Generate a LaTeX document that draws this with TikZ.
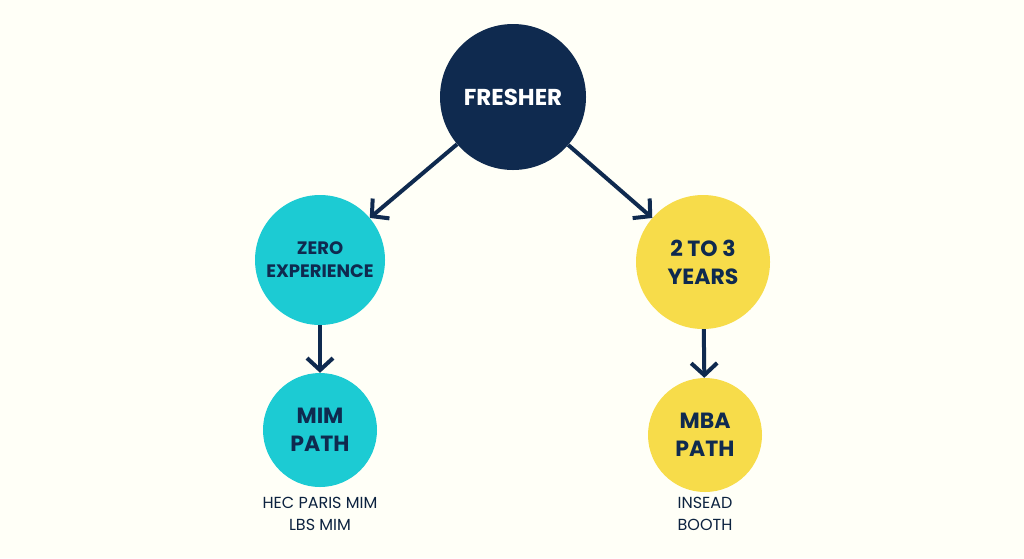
\documentclass[tikz,border=0pt]{standalone}
\usepackage{fontspec}
\setmainfont{Poppins}
\usetikzlibrary{arrows.meta}
\definecolor{navy}{HTML}{0F2A4F}
\definecolor{cyanc}{HTML}{1CCBD3}
\definecolor{yel}{HTML}{F7DC4A}
\begin{document}
\begin{tikzpicture}[x=1pt,y=-1pt,
  bub/.style={circle,inner sep=0pt,align=center,font=\bfseries\fontsize{18}{23}\selectfont,text=navy},
  arr/.style={navy,line width=4pt,-{Straight Barb[length=12pt,width=26pt,line width=4pt]}},
  lab/.style={font=\fontsize{16}{22}\selectfont,text=navy!80!black,align=center}]
\fill[white!97!yellow] (0,0) rectangle (1024,558);
\useasboundingbox (0,0) rectangle (1024,558);
\node[bub,fill=navy,text=white,minimum size=146pt,font=\bfseries\fontsize{23}{28}\selectfont] (f) at (513,97) {FRESHER};
\node[bub,fill=cyanc,minimum size=130pt] (z) at (320,260) {ZERO\\EXPERIENCE};
\node[bub,fill=yel,minimum size=134pt,font=\bfseries\fontsize{22}{28}\selectfont] (y) at (703,262) {2 TO 3\\YEARS};
\node[bub,fill=cyanc,minimum size=114pt,font=\bfseries\fontsize{22}{28}\selectfont] (m) at (320,430) {MIM\\PATH};
\node[bub,fill=yel,minimum size=114pt,font=\bfseries\fontsize{22}{28}\selectfont] (b) at (705,435) {MBA\\PATH};
\node[lab] (lm) at (320,514) {HEC PARIS MIM\\LBS MIM};
\node[lab] (lb) at (705,514) {INSEAD\\BOOTH};
\draw[arr] (f) -- (z);
\draw[arr] (f) -- (y);
\draw[arr] (z) -- (m);
\draw[arr] (y) -- (b);
\end{tikzpicture}
\end{document}
